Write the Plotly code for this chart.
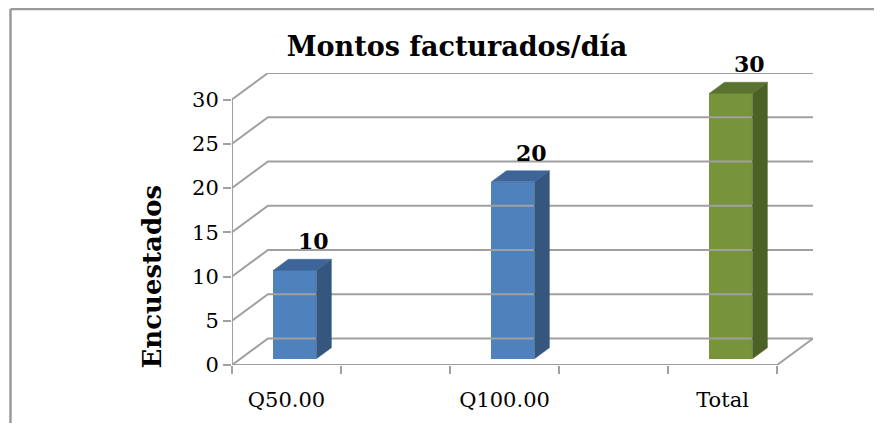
import plotly.graph_objects as go

# ---- data ----
categories = ["Q50.00", "Q100.00", "Total"]
values = [10, 20, 30]
slot_positions = [0, 2, 4]          # categories sit in slots 0, 2, 4 of 5
n_slots = 5
y_ticks = [0, 5, 10, 15, 20, 25, 30]
title_text = "Montos facturados/día"
y_title = "Encuestados"

# ---- styling / pseudo-3D geometry ----
DX = 0.33      # depth offset in category units
DY = 3.0       # depth offset in value units
F0, F1 = 0.234, 0.65   # bar front/back depth fractions
W = 0.394      # bar width
front_cols = ["#4F81BD", "#4F81BD", "#77933C"]
side_cols = ["#34567F", "#34567F", "#4C6126"]
top_cols = ["#3D6597", "#3D6597", "#5A7331"]
grid_col = "#A0A0A0"
FONT = "DejaVu Serif"

# page body has an 8px margin; figure sized to fit inside the window
OFF = 8
FW, FH = 883 - 2 * OFF, 437 - 2 * OFF - 6

fig = go.Figure()

x_left, x_right = -0.5, n_slots - 0.5

# wall / floor gridlines
gx, gy = [], []
for v in y_ticks:
    gx += [x_left, x_left + DX, x_right + DX, None]
    gy += [v, v + DY, v + DY, None]
# floor front edge + right diagonal
gx += [x_left, x_right, x_right + DX, None]
gy += [0, 0, DY, None]
# front vertical axis line
gx += [x_left, x_left]
gy += [0, y_ticks[-1]]
fig.add_trace(go.Scatter(x=gx, y=gy, mode="lines", line=dict(color=grid_col, width=2),
                         hoverinfo="skip", showlegend=False, cliponaxis=False))

base = F0 * DY
dfx = (F1 - F0) * DX
dfy = (F1 - F0) * DY
xc = [p + F0 * DX for p in slot_positions]

# front faces
fig.add_trace(go.Bar(x=xc, y=values, base=[base] * len(values), width=W,
                     marker=dict(color=front_cols, line=dict(width=0)),
                     showlegend=False, hoverinfo="skip"))

# side and top faces
for c, v, fc_s, fc_t in zip(xc, values, side_cols, top_cols):
    xl, xr = c - W / 2, c + W / 2
    top = v + base
    fig.add_trace(go.Scatter(
        x=[xr, xr + dfx, xr + dfx, xr, xr],
        y=[base, base + dfy, top + dfy, top, base],
        mode="lines", fill="toself", fillcolor=fc_s,
        line=dict(color=fc_s, width=0.5), hoverinfo="skip", showlegend=False))
    fig.add_trace(go.Scatter(
        x=[xl, xl + dfx, xr + dfx, xr, xl],
        y=[top, top + dfy, top + dfy, top, top],
        mode="lines", fill="toself", fillcolor=fc_t,
        line=dict(color=fc_t, width=0.5), hoverinfo="skip", showlegend=False))

# data labels
for c, v in zip(xc, values):
    fig.add_annotation(x=c + dfx / 2 + 0.1, y=v + base + dfy, text=f"<b>{v}</b>",
                       showarrow=False, yanchor="bottom", yshift=3,
                       font=dict(family=FONT, size=22, color="black"))

# plot-area placement (page pixels minus body offset)
L, T = 232 - OFF, 73 - OFF
R = FW - (813 - OFF)
B = FH - (365 - OFF)
pw, ph = FW - L - R, FH - T - B
def px2paper_x(px): return (px - OFF - L) / pw
def px2paper_y(py): return (FH - B - (py - OFF)) / ph

# y-axis title (placed as in reference)
fig.add_annotation(xref="paper", yref="y", x=px2paper_x(152), y=10, text=f"<b>{y_title}</b>",
                   textangle=-90, showarrow=False, xanchor="center", yanchor="middle",
                   font=dict(family=FONT, size=26, color="black"))

# outer chart frame (top & left edges visible)
fig.add_shape(type="line", xref="paper", yref="paper",
              x0=px2paper_x(10.5), y0=px2paper_y(9), x1=px2paper_x(FW + OFF - 1), y1=px2paper_y(9),
              line=dict(color="#9A9A9A", width=2.5))
fig.add_shape(type="line", xref="paper", yref="paper",
              x0=px2paper_x(10.5), y0=px2paper_y(9), x1=px2paper_x(10.5), y1=px2paper_y(FH + OFF),
              line=dict(color="#9A9A9A", width=2.5))

fig.update_layout(
    width=FW, height=FH,
    margin=dict(l=L, r=R, t=T, b=B, pad=0),
    paper_bgcolor="white", plot_bgcolor="white",
    title=dict(text=f"<b>{title_text}</b>", x=(457 - OFF) / FW, xanchor="center",
               y=1 - (47 - OFF) / FH, yanchor="middle",
               font=dict(family=FONT, size=27, color="black")),
    bargap=0,
    xaxis=dict(range=[x_left, x_right + DX], tickmode="array",
               tickvals=slot_positions, ticktext=categories,
               ticks="outside", ticklen=8, tickcolor="rgba(0,0,0,0)",
               minor=dict(tickmode="array",
                          tickvals=[x_left + i for i in range(n_slots + 1)],
                          ticks="outside", ticklen=8, tickwidth=2, tickcolor=grid_col),
               ticklabelstandoff=8,
               showgrid=False, zeroline=False, showline=False, automargin=False,
               tickfont=dict(family=FONT, size=21, color="black"), fixedrange=True),
    yaxis=dict(range=[0, 33], tickmode="array", tickvals=y_ticks,
               ticks="outside", ticklen=8, tickwidth=2, tickcolor=grid_col,
               showgrid=False, zeroline=False, showline=False, automargin=False,
               tickfont=dict(family=FONT, size=21, color="black"), fixedrange=True),
)

fig.write_html("out.html")
